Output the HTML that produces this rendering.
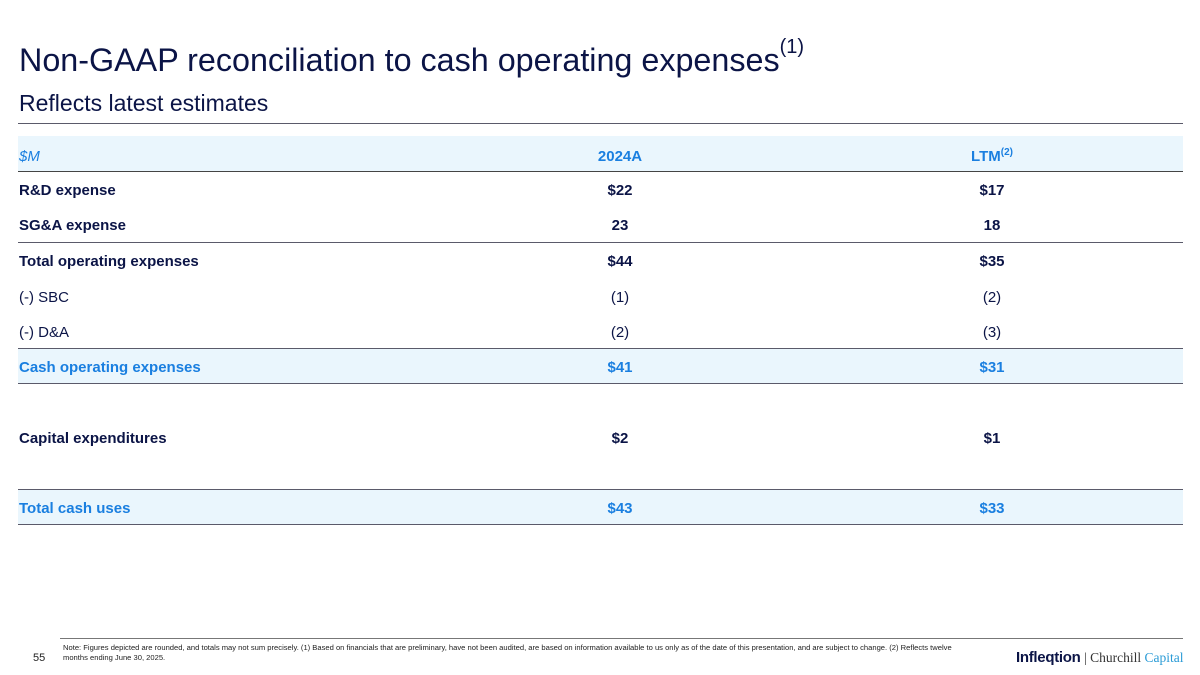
<!DOCTYPE html>
<html><head><meta charset="utf-8"><style>
body{margin:0;width:1200px;height:675px;background:#fff;font-family:"Liberation Sans",Arial,sans-serif;position:relative;overflow:hidden;color:#0b1446}
.a{position:absolute}
.t{left:19px;top:42px;font-size:32.3px;color:#0b1446;white-space:nowrap}
.t sup{font-size:20px;position:relative;top:-6px;vertical-align:top}
.s{left:19px;top:90px;font-size:23px}
.hl{left:18px;width:1165px;height:0;border-top:1px solid #5a5a6a}
.bg{left:18px;width:1165px;background:#eaf6fd}
.r{left:18px;width:1165px;height:20px;font-size:15px;font-weight:bold;line-height:20px}
.r span{position:absolute;white-space:nowrap}
.c1{left:1px}.c2{left:502px;width:200px;text-align:center}.c3{left:874px;width:200px;text-align:center}
.n{font-weight:normal}
.bl{color:#1a7fe0}
</style></head><body>
<div class="a t">Non-GAAP reconciliation to cash operating expenses<sup>(1)</sup></div>
<div class="a s">Reflects latest estimates</div>
<div class="a hl" style="top:123px"></div>
<div class="a bg" style="top:136px;height:35px"></div>
<div class="a hl" style="top:171px;border-color:#444"></div>
<div class="a r bl" style="top:147px"><span class="c1" style="font-weight:normal;font-style:italic">$M</span><span class="c2">2024A</span><span class="c3">LTM<sup style="font-size:10px;vertical-align:6px;line-height:0">(2)</sup></span></div>
<div class="a r" style="top:181px"><span class="c1">R&amp;D expense</span><span class="c2">$22</span><span class="c3">$17</span></div>
<div class="a r" style="top:216px"><span class="c1">SG&amp;A expense</span><span class="c2">23</span><span class="c3">18</span></div>
<div class="a hl" style="top:242px"></div>
<div class="a r" style="top:252px"><span class="c1">Total operating expenses</span><span class="c2">$44</span><span class="c3">$35</span></div>
<div class="a r n" style="top:288px"><span class="c1">(-) SBC</span><span class="c2">(1)</span><span class="c3">(2)</span></div>
<div class="a r n" style="top:323px"><span class="c1">(-) D&amp;A</span><span class="c2">(2)</span><span class="c3">(3)</span></div>
<div class="a bg" style="top:348px;height:35px"></div>
<div class="a hl" style="top:348px"></div>
<div class="a hl" style="top:383px"></div>
<div class="a r bl" style="top:358px"><span class="c1">Cash operating expenses</span><span class="c2">$41</span><span class="c3">$31</span></div>
<div class="a r" style="top:429px"><span class="c1">Capital expenditures</span><span class="c2">$2</span><span class="c3">$1</span></div>
<div class="a bg" style="top:489px;height:35px"></div>
<div class="a hl" style="top:489px"></div>
<div class="a hl" style="top:524px"></div>
<div class="a r bl" style="top:499px"><span class="c1">Total cash uses</span><span class="c2">$43</span><span class="c3">$33</span></div>
<div class="a hl" style="top:638px;left:60px;width:1123px;border-color:#777"></div>
<div class="a" style="left:63px;top:643px;width:900px;font-size:7.6px;line-height:9.5px;color:#222">Note: Figures depicted are rounded, and totals may not sum precisely. (1) Based on financials that are preliminary, have not been audited, are based on information available to us only as of the date of this presentation, and are subject to change. (2) Reflects twelve months ending June 30, 2025.</div>
<div class="a" style="left:33px;top:652px;font-size:11px;color:#222">55</div>
<div class="a" style="left:1016px;top:649px;font-size:15px;font-weight:bold;color:#0b1446;letter-spacing:-0.3px">Infleqtion</div>
<div class="a" style="left:1084px;top:650px;font-size:13.5px;font-family:'Liberation Serif',serif;color:#333;white-space:nowrap">| Churchill <span style="color:#2a9bd6">Capital</span></div>
</body></html>
